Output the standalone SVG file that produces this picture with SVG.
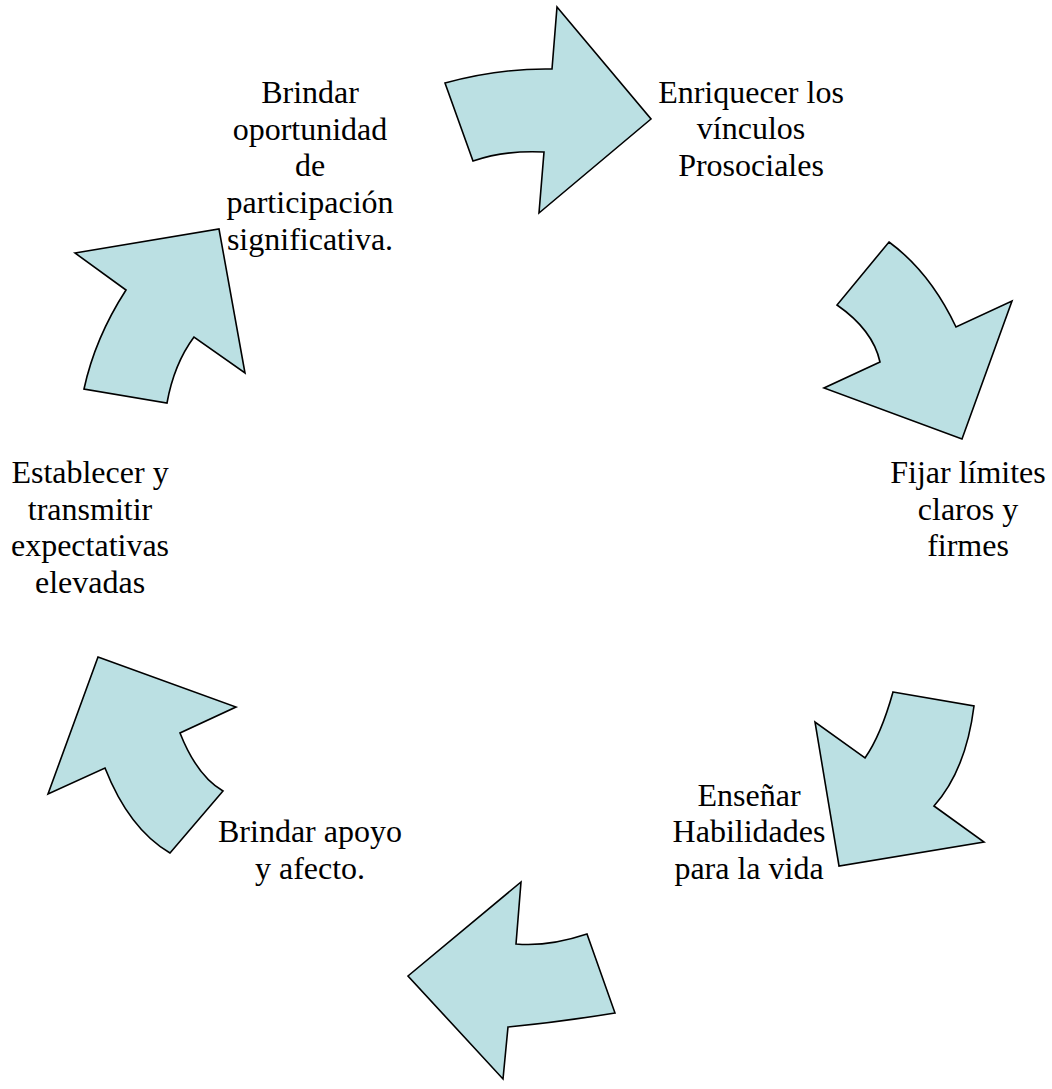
<svg xmlns="http://www.w3.org/2000/svg" width="1052" height="1089" viewBox="0 0 1052 1089">
<style>
.arr{fill:#BBE0E3;stroke:#000;stroke-width:1.6;stroke-linejoin:miter}
.lbl{font-family:"Liberation Serif","Times New Roman",serif;font-size:32px;fill:#000;text-anchor:middle}
</style>
<rect width="1052" height="1089" fill="#fff"/>
<g id="connectors">
<path id="arrow1" class="arr" d="M445,83 Q500,68 552,69 L557,7 L651,119 L539,213 L544,152 Q505,150 473,161 Z"/>
<path id="arrow2" class="arr" d="M889,242 Q930,272 956,327 L1012,301 L962,439 L824,388 L880,362 Q873,330 837,305 Z"/>
<path id="arrow3" class="arr" d="M893,692 L974,706 Q966,770 934,806 L984,842 L839,866 L815,722 L865,758 Q881,735 893,692 Z"/>
<path id="arrow4" class="arr" d="M521,882 L516,944 Q548,947 587,934 L615,1013 Q560,1022 508,1027 L503,1079 L408,976 Z"/>
<path id="arrow5" class="arr" d="M98,657 L236,707 L180,733 Q197,776 223,791 L170,853 Q129,829 105,768 L48,794 Z"/>
<path id="arrow6" class="arr" d="M75,253 L219,229 L245,373 L194,337 Q174,364 167,403 L84,389 Q95,338 126,290 Z"/>
</g>
<g id="node-participacion">
<text class="lbl" x="310" y="103">Brindar</text>
<text class="lbl" x="310" y="140">oportunidad</text>
<text class="lbl" x="310" y="176">de</text>
<text class="lbl" x="310" y="213">participación</text>
<text class="lbl" x="310" y="250">significativa.</text>
</g>
<g id="node-vinculos">
<text class="lbl" x="751" y="103">Enriquecer los</text>
<text class="lbl" x="751" y="139">vínculos</text>
<text class="lbl" x="751" y="176">Prosociales</text>
</g>
<g id="node-limites">
<text class="lbl" x="968" y="483">Fijar límites</text>
<text class="lbl" x="968" y="520">claros y</text>
<text class="lbl" x="968" y="556">firmes</text>
</g>
<g id="node-habilidades">
<text class="lbl" x="749" y="806">Enseñar</text>
<text class="lbl" x="749" y="842">Habilidades</text>
<text class="lbl" x="749" y="879">para la vida</text>
</g>
<g id="node-apoyo">
<text class="lbl" x="310" y="842">Brindar apoyo</text>
<text class="lbl" x="310" y="879">y afecto.</text>
</g>
<g id="node-expectativas">
<text class="lbl" x="90" y="483">Establecer y</text>
<text class="lbl" x="90" y="520">transmitir</text>
<text class="lbl" x="90" y="556">expectativas</text>
<text class="lbl" x="90" y="593">elevadas</text>
</g>
</svg>
